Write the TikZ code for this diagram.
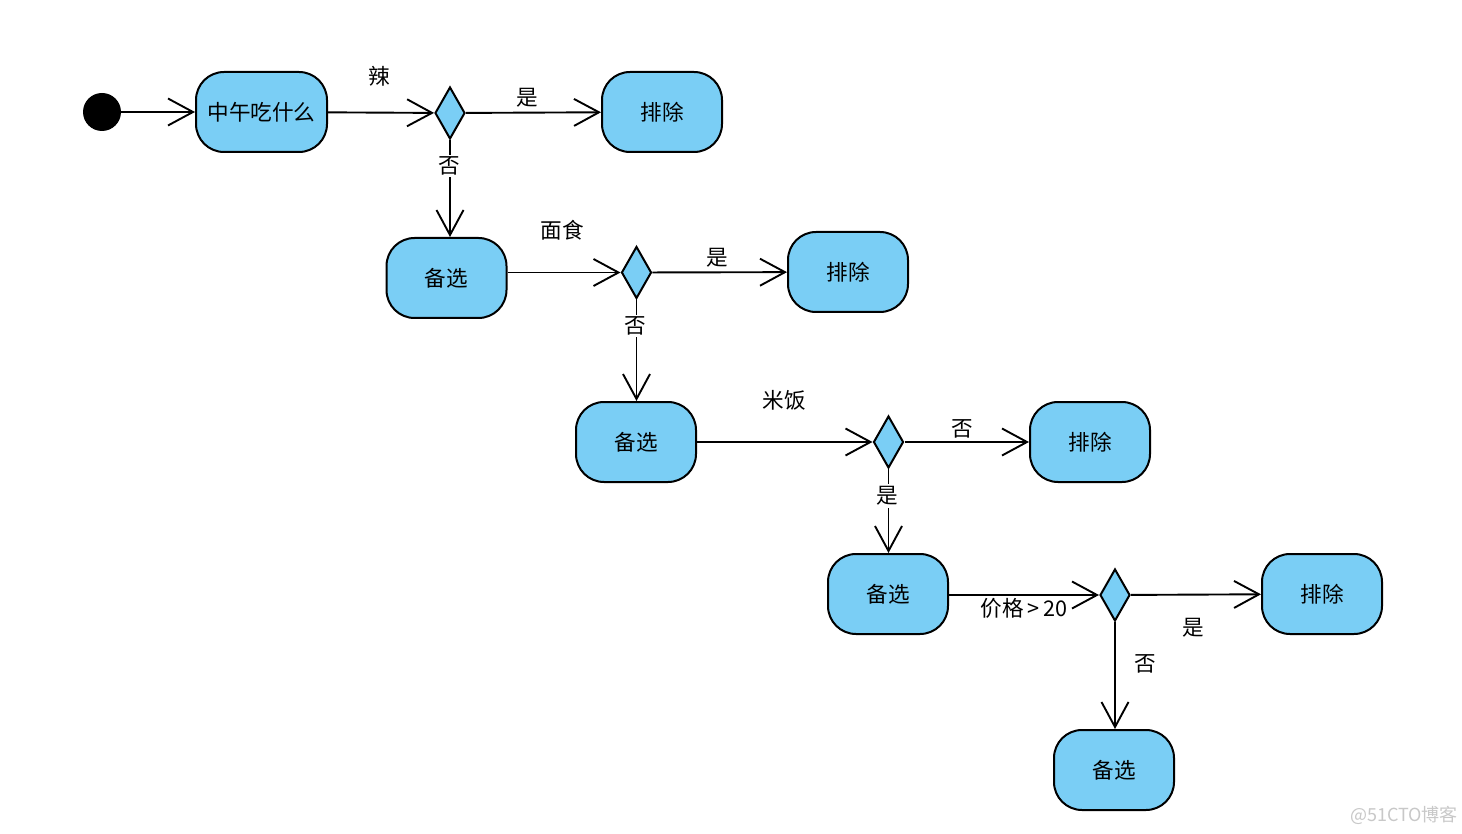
\documentclass[tikz,border=0pt]{standalone}
\usepackage{fontspec}
\setmainfont{Noto Sans CJK SC}
\usetikzlibrary{shapes.geometric,arrows.meta}
\definecolor{boxblue}{RGB}{122,206,245}
\definecolor{wmgray}{RGB}{200,200,200}
\tikzset{
  state/.style={draw=black, line width=1pt, fill=boxblue, rounded corners=14pt,
    minimum width=60pt, minimum height=40pt, inner sep=0pt, font=\fontsize{10.8pt}{12pt}\selectfont},
  choice/.style={draw=black, line width=1pt, fill=boxblue, diamond, minimum width=15pt,
    minimum height=26pt, inner sep=0pt},
  flow/.style={draw=black, line width=0.95pt, -{Straight Barb[length=12.5pt,width=13.5pt,line width=0.95pt]}},
  lbl/.style={font=\fontsize{10.8pt}{12pt}\selectfont, inner sep=1pt},
  lblw/.style={lbl, fill=white},
}
\begin{document}
\begin{tikzpicture}[x=0.5pt,y=-0.5pt]
\useasboundingbox[fill=white] (0,0) rectangle (1462,834);
% nodes
\node[circle, fill=black, minimum size=19pt, inner sep=0pt] (init) at (102,112) {};
\node[state, minimum width=65.5pt] (s0) at (261.5,112) {中午吃什么};
\node[choice] (d1) at (450,113) {};
\node[state] (x1) at (662,112) {排除};
\node[state] (a1) at (446.5,278) {备选};
\node[choice] (d2) at (636.5,272.5) {};
\node[state] (x2) at (848,272) {排除};
\node[state] (a2) at (636,442) {备选};
\node[choice] (d3) at (888.5,442) {};
\node[state] (x3) at (1090,442) {排除};
\node[state] (a3) at (888,594) {备选};
\node[choice] (d4) at (1115,595) {};
\node[state] (x4) at (1322,594) {排除};
\node[state] (a4) at (1114,770) {备选};
% connectors
\draw[flow] (init) -- (s0);
\draw[flow] (s0) -- (d1);
\draw[flow] (d1) -- (x1);
\draw[flow] (d1.south) -- (d1.south |- a1.north);
\draw[flow] (d2 -| a1.east) -- (d2);
\draw[flow] (d2) -- (x2);
\draw[flow] (d2.south) -- (d2.south |- a2.north);
\draw[flow] (a2) -- (d3);
\draw[flow] (d3) -- (x3);
\draw[flow] (d3.south) -- (d3.south |- a3.north);
\draw[flow] (d4 -| a3.east) -- (d4);
\draw[flow] (d4) -- (x4);
\draw[flow] (d4.south) -- (d4.south |- a4.north);
% labels
\node[lbl] (l1) at (379,76) {辣};
\node[lbl] (l2) at (527,98) {是};
\node[lblw] (l3) at (449,166) {否};
\node[lbl] (l4) at (562,230) {面食};
\node[lbl] (l5) at (717,258) {是};
\node[lblw] (l6) at (635,326) {否};
\node[lbl] (l7) at (784,400) {米饭};
\node[lbl] (l8) at (962,429) {否};
\node[lblw] (l9) at (887,496) {是};
\node[lbl] (l10) at (1024,608) {价格\,>\,20};
\node[lbl] (l11) at (1193,628) {是};
\node[lbl] (l12) at (1145,664) {否};
\node[font=\fontsize{9pt}{10pt}\selectfont, text=wmgray, inner sep=0pt] (wm) at (1404,815) {@51CTO博客};
\end{tikzpicture}
\end{document}
